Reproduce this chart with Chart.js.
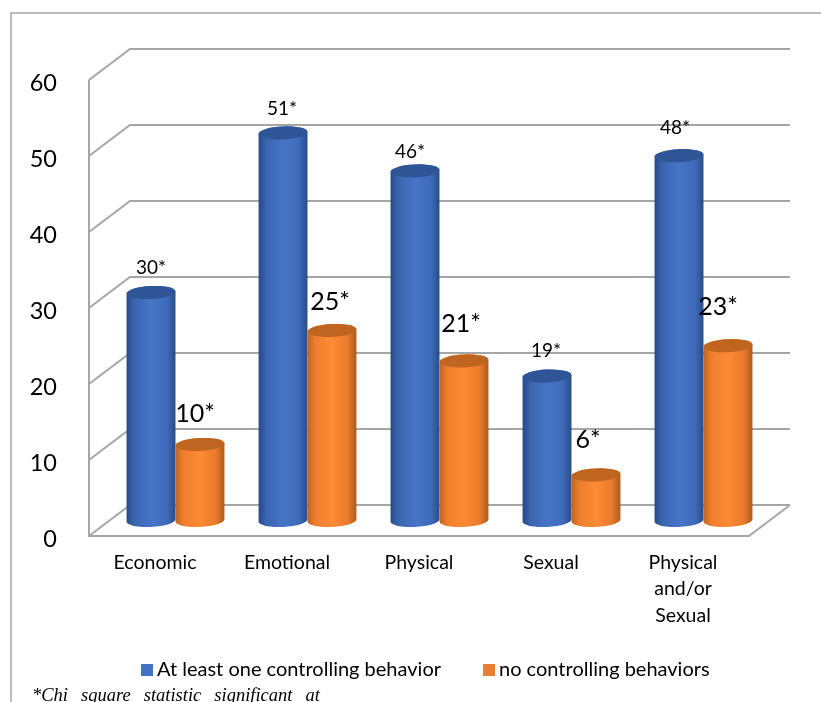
<!DOCTYPE html>
<html>
<head>
<meta charset="utf-8">
<title>Violence by controlling behaviour</title>
<style>
  html, body { margin: 0; padding: 0; background: #fff; }
  #wrap { width: 821px; height: 702px; overflow: hidden; }
</style>
<script src="https://cdn.jsdelivr.net/npm/chart.js@4/dist/chart.umd.js"></script>
</head>
<body>
<div id="wrap"><canvas id="chart" width="821" height="702"></canvas></div>
<script>
const categories = ['Economic', 'Emotional', 'Physical', 'Sexual', ['Physical', 'and/or', 'Sexual']];
const seriesNames = ['At least one controlling behavior', 'no controlling behaviors'];
const withControlling = [30, 51, 46, 19, 48];
const withoutControlling = [10, 25, 21, 6, 23];
const valueSuffix = '*';
const footnote = '*Chi square statistic significant at';

// Colours
const blue = { swatch: '#4472c4', top: '#2f5597', stops: ['#274a88', '#3a64ae', '#4675c8', '#3f6bb9', '#294d8c'] };
const orange = { swatch: '#ed7d31', top: '#c0651f', stops: ['#bf6522', '#ee7e2f', '#fd8a34', '#ea7b2c', '#ad5a1e'] };
const gridColor = '#a6a6a6';

// Receding depth of the 3D box, and of the bars standing halfway inside it
const depth = { x: 41, y: -31 };
const barDepth = { x: 20.5, y: -15.5 };

// Label nudges relative to each cylinder's top centre: [dx, dy]
const labelNudge = [
  [[0, -25], [-1, -24], [-5, -19], [-1, -25], [-4, -28]],
  [[-5, -31], [-2, -29], [-3, -37], [-8, -35], [-10, -39]]
];
const labelFontSize = [19, 25];

Chart.defaults.font.family = 'Lato, "Open Sans", sans-serif';
Chart.defaults.color = '#000';

// A bar element painted as a shaded cylinder set back into the box
class CylinderElement extends Chart.BarElement {
  draw(ctx) {
    const { x, y, base, width } = this.getProps(['x', 'y', 'base', 'width']);
    const look = this.options.look;
    const cx = x + barDepth.x, top = y + barDepth.y, bottom = base + barDepth.y;
    const rx = width / 2, ry = 6.5, tilt = -0.05;
    const g = ctx.createLinearGradient(cx - rx, 0, cx + rx, 0);
    [0, 0.16, 0.5, 0.82, 1].forEach((p, i) => g.addColorStop(p, look.stops[i]));
    ctx.save();
    ctx.fillStyle = g;
    ctx.beginPath();
    ctx.ellipse(cx, bottom, rx, ry, tilt, 0, Math.PI);
    ctx.ellipse(cx, top, rx, ry, tilt, Math.PI, 2 * Math.PI);
    ctx.closePath();
    ctx.fill();
    ctx.fillStyle = look.top;
    ctx.beginPath();
    ctx.ellipse(cx, top, rx, ry, tilt, 0, 2 * Math.PI);
    ctx.fill();
    ctx.restore();
  }
}
CylinderElement.id = 'cylinder';
CylinderElement.defaults = Object.assign({}, Chart.BarElement.defaults, { look: null });

class CylinderController extends Chart.BarController {}
CylinderController.id = 'cylinderBar';
CylinderController.defaults = { dataElementType: 'cylinder' };
CylinderController.overrides = Chart.BarController.overrides;

Chart.register(CylinderElement, CylinderController);

// Wall gridlines, side diagonals, front axis lines and the outer frame;
// the series are then painted first to last so orange overlaps blue
const boxPlugin = {
  id: 'box',
  beforeDatasetsDraw(chart) {
    const { ctx, scales: { x, y } } = chart;
    const left = x.left, right = x.right;
    ctx.save();
    ctx.strokeStyle = gridColor;
    ctx.lineWidth = 1.5;
    ctx.beginPath();
    ctx.moveTo(11, 702); ctx.lineTo(11, 13); ctx.lineTo(821, 13);
    ctx.stroke();
    ctx.lineWidth = 2;
    ctx.beginPath();
    y.ticks.forEach(t => {
      const py = y.getPixelForValue(t.value);
      ctx.moveTo(left, py);
      ctx.lineTo(left + depth.x, py + depth.y);
      ctx.lineTo(right + depth.x, py + depth.y);
    });
    const py0 = y.getPixelForValue(0);
    ctx.moveTo(left, y.getPixelForValue(y.max));
    ctx.lineTo(left, py0);
    ctx.lineTo(right, py0);
    ctx.lineTo(right + depth.x, py0 + depth.y);
    ctx.stroke();
    ctx.restore();

    chart.data.datasets.forEach((ds, d) => chart.getDatasetMeta(d).controller.draw());
    return false;
  }
};

// Value labels, legend row and footnote
const annotationPlugin = {
  id: 'annotations',
  afterDraw(chart) {
    const { ctx } = chart;
    ctx.save();
    ctx.fillStyle = '#000';
    ctx.textAlign = 'center';
    ctx.textBaseline = 'middle';
    chart.data.datasets.forEach((ds, d) => {
      const meta = chart.getDatasetMeta(d);
      ctx.font = `${labelFontSize[d]}px Lato, "Open Sans", sans-serif`;
      meta.data.forEach((bar, i) => {
        const [dx, dy] = labelNudge[d][i];
        ctx.fillText(ds.data[i] + valueSuffix, bar.x + barDepth.x + dx, bar.y + barDepth.y + dy);
      });
    });

    ctx.textAlign = 'left';
    ctx.font = '20px Lato, "Open Sans", sans-serif';
    const legendX = [141, 483], legendY = 670;
    chart.data.datasets.forEach((ds, d) => {
      ctx.fillStyle = ds.backgroundColor;
      ctx.fillRect(legendX[d], legendY - 6, 12, 12);
      ctx.fillStyle = '#000';
      ctx.fillText(ds.label, legendX[d] + 16, legendY);
    });

    ctx.font = 'italic 18.5px "Liberation Serif", serif';
    ctx.textBaseline = 'alphabetic';
    ctx.wordSpacing = '8.4px';
    ctx.fillText(footnote, 32, 701);
    ctx.restore();
  }
};

new Chart(document.getElementById('chart'), {
  type: 'bar',
  data: {
    labels: categories,
    datasets: [
      { type: 'cylinderBar', label: seriesNames[0], data: withControlling, backgroundColor: blue.swatch, look: blue,
        categoryPercentage: 0.742, barPercentage: 1 },
      { type: 'cylinderBar', label: seriesNames[1], data: withoutControlling, backgroundColor: orange.swatch, look: orange,
        categoryPercentage: 0.742, barPercentage: 1 }
    ]
  },
  options: {
    responsive: false,
    animation: false,
    layout: { padding: { left: 0, top: 80, right: 72, bottom: 0 } },
    plugins: { legend: { display: false }, tooltip: { enabled: false } },
    scales: {
      x: {
        grid: { display: false },
        border: { display: false },
        afterFit(s) { s.height = 166; },
        ticks: { padding: 5, font: { size: 19.5, lineHeight: 1.36 }, maxRotation: 0, autoSkip: false }
      },
      y: {
        min: 0,
        max: 60,
        grid: { display: false },
        border: { display: false },
        afterFit(s) { s.width = 89; },
        ticks: { stepSize: 10, padding: 24, labelOffset: 3, font: { size: 23.5 } }
      }
    }
  },
  plugins: [boxPlugin, annotationPlugin]
});
</script>
</body>
</html>
